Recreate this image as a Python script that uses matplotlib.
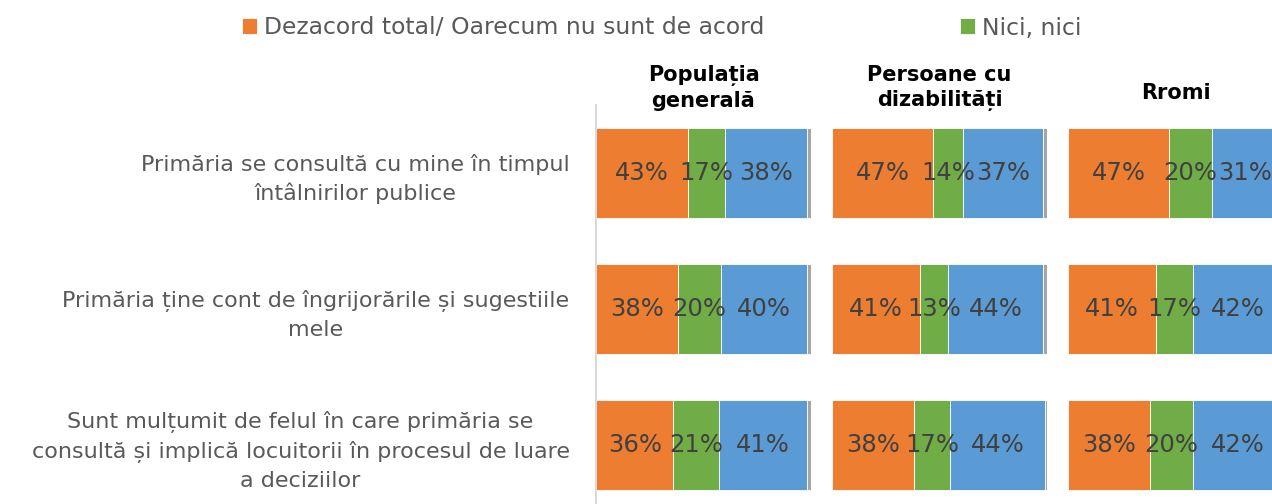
import matplotlib.pyplot as plt

plt.rcParams["font.family"] = ["DejaVu Sans"]

categories = [
    "Primăria se consultă cu mine în timpul\nîntâlnirilor publice",
    "Primăria ține cont de îngrijorările și sugestiile\nmele",
    "Sunt mulțumit de felul în care primăria se\nconsultă și implică locuitorii în procesul de luare\na deciziilor",
]
groups = ["Populația\ngenerală", "Persoane cu\ndizabilități", "Rromi"]
series = ["Dezacord total/ Oarecum nu sunt de acord", "Nici, nici", "Acord", "NS/NR"]
colors = ["#ED7D31", "#70AD47", "#5B9BD5", "#A5A5A5"]

dezacord = [[43, 38, 36], [47, 41, 38], [47, 41, 38]]
nici = [[17, 20, 21], [14, 13, 17], [20, 17, 20]]
acord = [[38, 40, 41], [37, 44, 44], [31, 42, 42]]
nsnr = [[2, 2, 2], [2, 2, 1], [2, 0, 0]]

W, H = 1272, 504
fig = plt.figure(figsize=(W / 100, H / 100), dpi=100)

panel_left = [596, 832, 1068]
panel_w = 215
top = 105
step = 136
ax_h = 3 * step
title_y = [1.042, 1.042, 1.03]

axes = []
for i in range(3):
    ax = fig.add_axes([panel_left[i] / W, (H - top - ax_h) / H, panel_w / W, ax_h / H])
    axes.append(ax)
    vals = [dezacord[i], nici[i], acord[i], nsnr[i]]
    left = [0, 0, 0]
    for k, v in enumerate(vals):
        bars = ax.barh(range(3), v, left=left, height=0.66, color=colors[k],
                       edgecolor="white", linewidth=0.6, label=series[k])
        if k < 3:
            ax.bar_label(bars, labels=[f"{x}%" for x in v], label_type="center",
                         fontsize=17.5, color="#404040")
        left = [a + b for a, b in zip(left, v)]
    ax.set_xlim(0, 100)
    ax.set_ylim(2.5, -0.5)
    ax.set_xticks([])
    for s in ["top", "right", "bottom", "left"]:
        ax.spines[s].set_visible(False)
    ax.text(50, title_y[i], groups[i], transform=ax.get_xaxis_transform(),
            ha="center", va="center", fontsize=15, fontweight="bold",
            color="black", linespacing=1.3)
    if i == 0:
        ax.spines["left"].set_visible(True)
        ax.spines["left"].set_color("#D9D9D9")
        ax.spines["left"].set_linewidth(1.5)
        ax.set_yticks(range(3))
        ax.set_yticklabels(categories, fontsize=16, color="#595959")
        ax.tick_params(axis="y", length=0, pad=19)
        for t in ax.get_yticklabels():
            t.set_multialignment("center")
            t.set_linespacing(1.47)
    else:
        ax.set_yticks([])

handles, labels = axes[0].get_legend_handles_labels()
fig.legend(handles[:2], labels[:2], loc="center left",
           bbox_to_anchor=(221 / W, 1 - 28 / H), ncol=2, frameon=False,
           fontsize=16.9, labelcolor="#595959", handlelength=0.65, handleheight=0.65,
           handletextpad=0.3, columnspacing=8.3)

fig.savefig("out.png", dpi=100)
